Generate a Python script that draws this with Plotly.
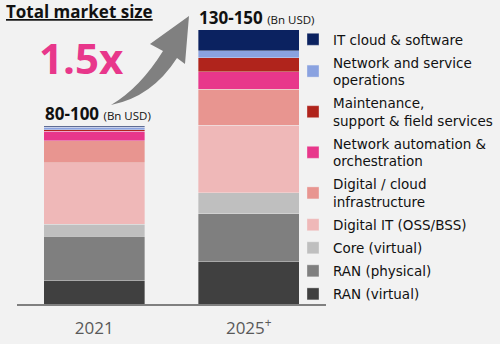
import plotly.graph_objects as go

years = ["2021", "2025<sup>+</sup>"]
segments = [
    "RAN (virtual)",
    "RAN (physical)",
    "Core (virtual)",
    "Digital IT (OSS/BSS)",
    "Digital / cloud<br>infrastructure",
    "Network automation &<br>orchestration",
    "Maintenance,<br>support & field services",
    "Network and service<br>operations",
    "IT cloud & software",
]
values_2021 = [12.1, 22.6, 6.1, 31.3, 11.3, 4.9, 0.8, 1.3, 0.5]
values_2025 = [21.5, 24.7, 10.6, 34.6, 18.4, 8.8, 7.3, 3.6, 10.6]
colors = ["#404040", "#7f7f7f", "#bfbfbf", "#efb8b8", "#e89590",
          "#e8378b", "#b0241c", "#8aa2e0", "#0b2260"]
total_labels = ["80-100", "130-150"]

BG = "#f2f2f2"
FONT = "Open Sans"
LEG_FONT = "DejaVu Sans"
W, H = 500, 344
ML, MR, MT, MB = 17, 174, 10, 40
PW, PH = W - ML - MR, H - MT - MB
BAR_W = 0.654


def px(x):
    return (x - ML) / PW


def py(y):
    return (H - MB - y) / PH


fig = go.Figure()
n = len(segments)
for i, name in enumerate(segments):
    fig.add_trace(go.Bar(
        x=years,
        y=[values_2021[i], values_2025[i]],
        name=name,
        legendgroup=name,
        legendrank=n - i,
        marker=dict(color=colors[i], line=dict(color="rgba(242,242,242,0.6)", width=0.6)),
        width=BAR_W,
        hoverinfo="skip",
    ))

totals = [sum(values_2021), sum(values_2025)]
annotations = []
for i, lab in enumerate(total_labels):
    annotations.append(dict(
        x=i - BAR_W / 2, y=totals[i], xref="x", yref="y",
        xanchor="left", yanchor="bottom", showarrow=False, xshift=-1, yshift=-1,
        text=f"<b>{lab}</b> <span style='font-size:11.5px'>(Bn USD)</span>",
        font=dict(family=FONT, size=17, color="#111111"),
    ))

annotations.append(dict(
    x=px(4), y=py(11), xref="paper", yref="paper", xanchor="left", yanchor="middle",
    showarrow=False, text="<b><u>Total market size</u></b>",
    font=dict(family=FONT, size=17, color="#111111"),
))
annotations.append(dict(
    x=px(81), y=py(58), xref="paper", yref="paper", xanchor="center", yanchor="middle",
    showarrow=False, text="<b>1.5x</b>",
    font=dict(family=FONT, size=42, color="#e8378b"),
))


def P(x, y):
    return f"{px(x):.4f},{py(y):.4f}"


arrow_path = (
    f"M{P(111, 105)} "
    f"Q{P(152, 97)} {P(177, 58)} "
    f"L{P(185, 64)} L{P(189, 16)} L{P(150, 44)} L{P(163, 51)} "
    f"Q{P(140, 88)} {P(111, 105)} Z"
)

fig.update_layout(
    width=W, height=H,
    margin=dict(l=ML, r=MR, t=MT, b=MB, pad=0, autoexpand=False),
    paper_bgcolor=BG, plot_bgcolor=BG,
    barmode="stack",
    bargap=1 - BAR_W,
    showlegend=True,
    legend=dict(
        x=px(293), y=py(24), xanchor="left", yanchor="top",
        traceorder="grouped", tracegroupgap=2.5, maxheight=420,
        font=dict(family=LEG_FONT, size=13.5, color="#111111"),
        bgcolor="rgba(0,0,0,0)", itemclick=False, itemdoubleclick=False,
    ),
    xaxis=dict(
        showline=True, linecolor="#808080", linewidth=1.5,
        showgrid=False, ticks="", zeroline=False,
        tickfont=dict(family=FONT, size=17, color="#595959"),
        ticklabelstandoff=8,
        range=[-0.5, 1.5], fixedrange=True,
    ),
    yaxis=dict(visible=False, range=[0, 140 * PH / 274], fixedrange=True),
    annotations=annotations,
    shapes=[dict(type="path", path=arrow_path, xref="paper", yref="paper",
                 fillcolor="#808080", line=dict(width=0), layer="above")],
)

fig.write_html("out.html", config={"displayModeBar": False})
